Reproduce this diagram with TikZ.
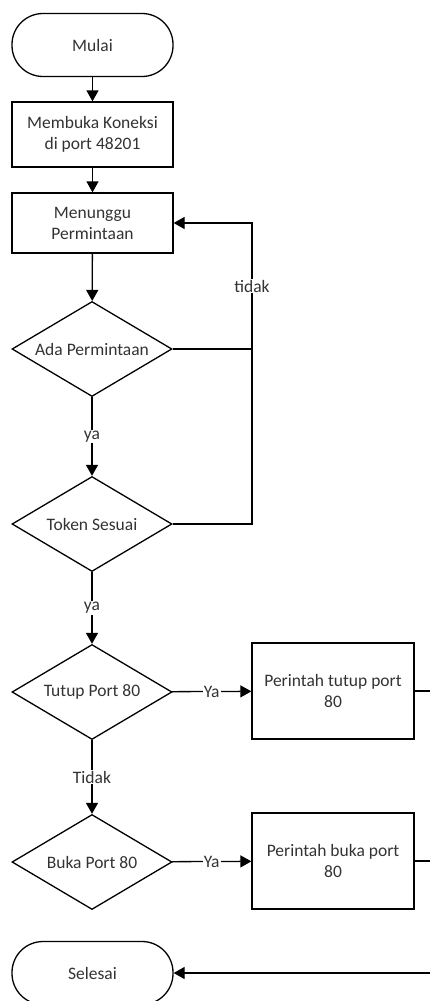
\documentclass[tikz,border=0pt]{standalone}
\usepackage{fontspec}
\setmainfont{Carlito}
\usetikzlibrary{shapes.geometric,arrows.meta}

\begin{document}
\begin{tikzpicture}
[x=1pt,y=-1pt,
  lineDecorate/.style={-{Triangle[length=11pt,width=12pt]},line width=1.3pt},%
  plainDecorate/.style={-,line width=1.3pt},
  terminalDecorate/.style={shape=rectangle,rounded corners=31pt,draw,line width=1.3pt,
    minimum width=161pt,minimum height=63pt},
  boxDecorate/.style={shape=rectangle,draw,line width=1.3pt,minimum width=161pt,align=center},
  decisionDecorate/.style={shape=diamond,draw,line width=1.3pt,aspect=1.68,inner sep=0pt,
    minimum width=160pt,minimum height=95pt},
  labelDecorate/.style={fill=white,inner sep=1pt},
  text=black!80,
  font=\fontsize{17.5}{21}\selectfont]
\useasboundingbox (0,0) rectangle (429,1001);
%% nodes
\node (mulai) at (92.5,45) [terminalDecorate] {Mulai};
\node (koneksi) at (92.5,134.5) [boxDecorate,minimum height=65pt] {Membuka Koneksi\\di port 48201};
\node (tunggu) at (92.5,223) [boxDecorate,minimum height=60pt] {Menunggu\\Permintaan};
\node (ada) at (92,349) [decisionDecorate] {Ada Permintaan};
\node (token) at (92,524) [decisionDecorate] {Token Sesuai};
\node (tutup) at (92,692) [decisionDecorate] {Tutup Port 80};
\node (buka) at (92,862) [decisionDecorate] {Buka Port 80};
\node (tutupBox) at (333,691) [boxDecorate,minimum width=162pt,minimum height=96pt] {Perintah tutup port\\80};
\node (bukaBox) at (333,861) [boxDecorate,minimum width=162pt,minimum height=96pt] {Perintah buka port\\80};
\node (selesai) at (92.5,973) [terminalDecorate] {Selesai};
\coordinate (kiriTengah) at (252,349);
\coordinate (kiriAtas) at (252,223);
\coordinate (kananBawah) at (440,973);
%% edges
\path
\foreach \startnode/\endnode in {mulai/koneksi, koneksi/tunggu, tunggu/ada}
{
  (\startnode) edge[lineDecorate] (\endnode)
};
\draw[lineDecorate] (ada) -- node[labelDecorate] {ya} (token);
\draw[lineDecorate] (token) -- node[labelDecorate] {ya} (tutup);
\draw[lineDecorate] (tutup) -- node[labelDecorate] {Tidak} (buka);
\draw[lineDecorate] (tutup) -- node[labelDecorate] {Ya} (tutupBox);
\draw[lineDecorate] (buka) -- node[labelDecorate] {Ya} (bukaBox);
\draw[lineDecorate] (token.east) -| (kiriTengah) -- node[labelDecorate] {tidak} (kiriAtas) -- (tunggu.east);
\draw[plainDecorate] (ada.east) -- (kiriTengah);
\draw[lineDecorate] (tutupBox.east) -| (kananBawah) -- (selesai.east);
\draw[plainDecorate] (bukaBox.east) -- (bukaBox.east -| kananBawah);
\end{tikzpicture}
\end{document}
